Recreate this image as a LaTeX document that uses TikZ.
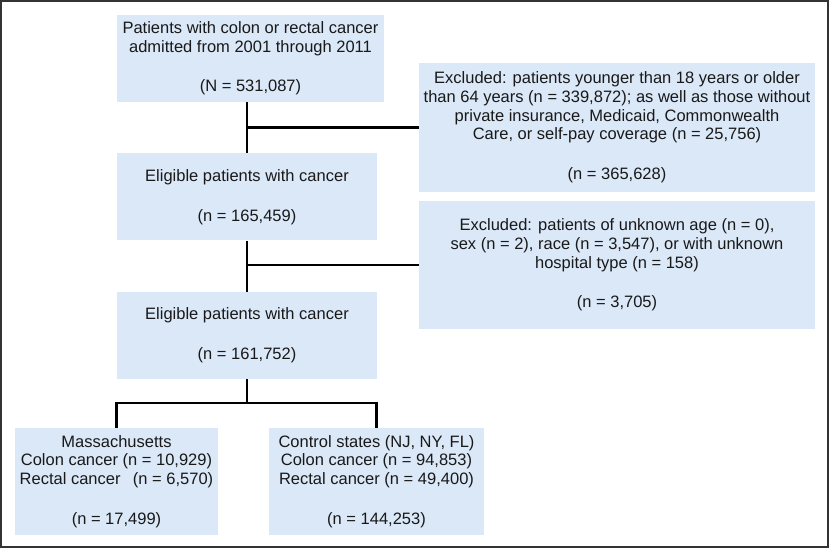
\documentclass[tikz,border=0pt]{standalone}
\usepackage{fontspec}
\setmainfont{Liberation Sans}
\usetikzlibrary{positioning, calc}
\definecolor{boxblue}{RGB}{219,232,248}

\begin{document}
\begin{tikzpicture}[x=1pt, y=-1pt, node distance=51pt,
    block/.style={rectangle, fill=boxblue, inner sep=0pt, align=center, text=black!90,
        minimum width=260pt, minimum height=87pt, font=\fontsize{16.5}{18.7}\selectfont},
    sidebox/.style={block, minimum width=396pt, minimum height=128pt},
    armbox/.style={block, minimum height=107pt},
    line/.style={line width=2.4pt, black}]

    \useasboundingbox (0,0) rectangle (830,549);
    \draw[line width=1.4pt, black!80] (1,1) rectangle (828,547);

    \node[block, minimum width=267pt] (start) at (250.5,58.5) {Patients with colon or rectal cancer\\admitted from 2001 through 2011\\[21pt](N = 531,087)};
    \node[block, below=of start, xshift=-3.5pt] (elig1) {Eligible patients with cancer\\[21pt](n = 165,459)};
    \node[block, below=of elig1] (elig2) {Eligible patients with cancer\\[21pt](n = 161,752)};

    \node[sidebox, minimum height=129pt] (excl1) at (617,127.5) {Excluded: patients younger than 18 years or older\\than 64 years (n = 339,872); as well as those without\\private insurance, Medicaid, Commonwealth\\Care, or self-pay coverage (n = 25,756)\\[21pt](n = 365,628)};
    \node[sidebox] (excl2) at (617,265) {Excluded: patients of unknown age (n = 0),\\sex (n = 2), race (n = 3,547), or with unknown\\hospital type (n = 158)\\[21pt](n = 3,705)};

    \node[armbox, minimum width=203pt] (mass) at (116.5,481.5) {Massachusetts\\Colon cancer (n = 10,929)\\Rectal cancer\hspace{0.75em}(n = 6,570)\\[21pt](n = 17,499)};
    \node[armbox, minimum width=215pt] (ctrl) at (376.5,481.5) {Control states (NJ, NY, FL)\\Colon cancer (n = 94,853)\\Rectal cancer (n = 49,400)\\[21pt](n = 144,253)};

    \coordinate (cut1) at (elig1.north |- excl1.west);
    \coordinate (cut2) at (elig2.north |- excl2.west);
    \coordinate (split) at ($(elig2.south)+(0,24)$);

    \draw[line] (elig1.north |- start.south) -- (elig1.north);
    \draw[line] (cut1) -- (excl1.west);
    \draw[line] (elig1.south) -- (elig2.north);
    \draw[line] (cut2) -- (excl2.west);
    \draw[line] (elig2.south) -- (split);
    \draw[line] (mass.north) |- (split) -| (ctrl.north);
\end{tikzpicture}
\end{document}
